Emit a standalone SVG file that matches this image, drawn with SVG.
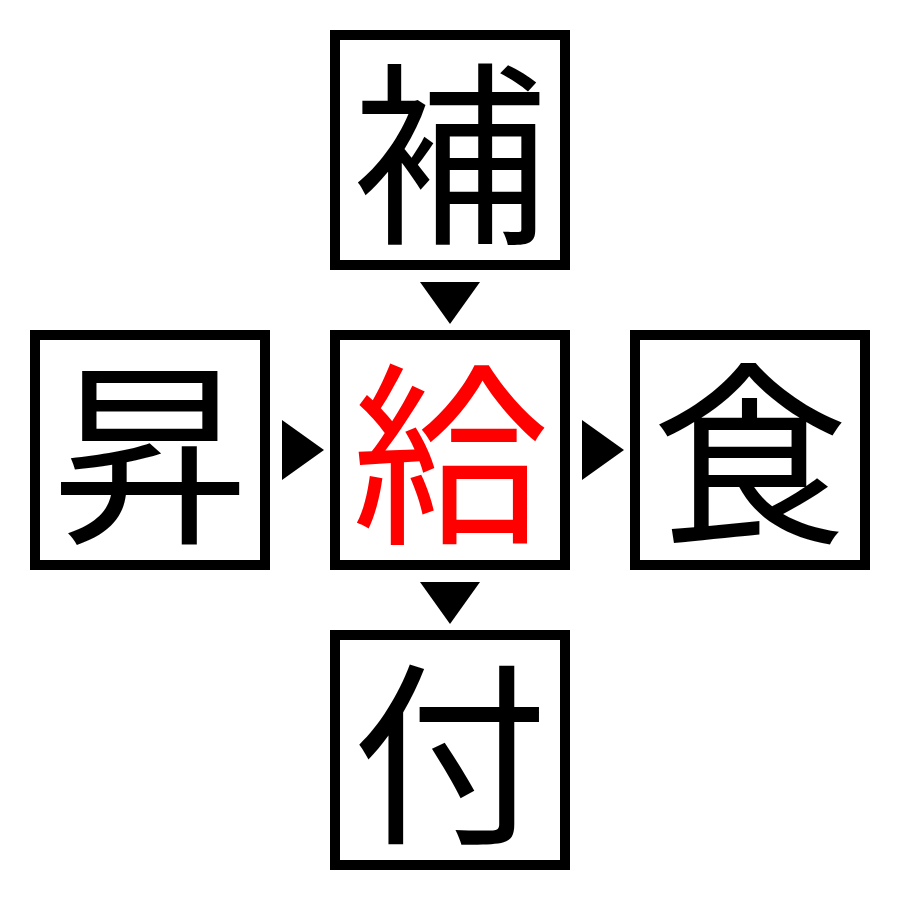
<svg xmlns="http://www.w3.org/2000/svg" width="900" height="900" viewBox="0 0 900 900">
<style>
.box{fill:#fff;stroke:#000;stroke-width:10}
.ch{font-family:"Noto Sans CJK JP","Noto Sans CJK SC",sans-serif;font-size:196px;text-anchor:middle;dominant-baseline:central;fill:#000}
.hl{fill:#ff0000}
.arr{fill:#000}
</style>
<rect width="900" height="900" fill="#fff"/>
<g id="node-top"><rect class="box" x="335" y="35" width="230" height="230"/><text class="ch" x="450" y="142">補</text></g>
<g id="node-left"><rect class="box" x="35" y="335" width="230" height="230"/><text class="ch" x="150" y="442">昇</text></g>
<g id="node-center"><rect class="box" x="335" y="335" width="230" height="230"/><text class="ch hl" x="450" y="442">給</text></g>
<g id="node-right"><rect class="box" x="635" y="335" width="230" height="230"/><text class="ch" x="750" y="442">食</text></g>
<g id="node-bottom"><rect class="box" x="335" y="635" width="230" height="230"/><text class="ch" x="450" y="742">付</text></g>
<g id="connectors">
<polygon class="arr" points="420,282 480,282 450,324"/>
<polygon class="arr" points="282,420 282,480 324,450"/>
<polygon class="arr" points="582,420 582,480 624,450"/>
<polygon class="arr" points="420,582 480,582 450,624"/>
</g>
</svg>
